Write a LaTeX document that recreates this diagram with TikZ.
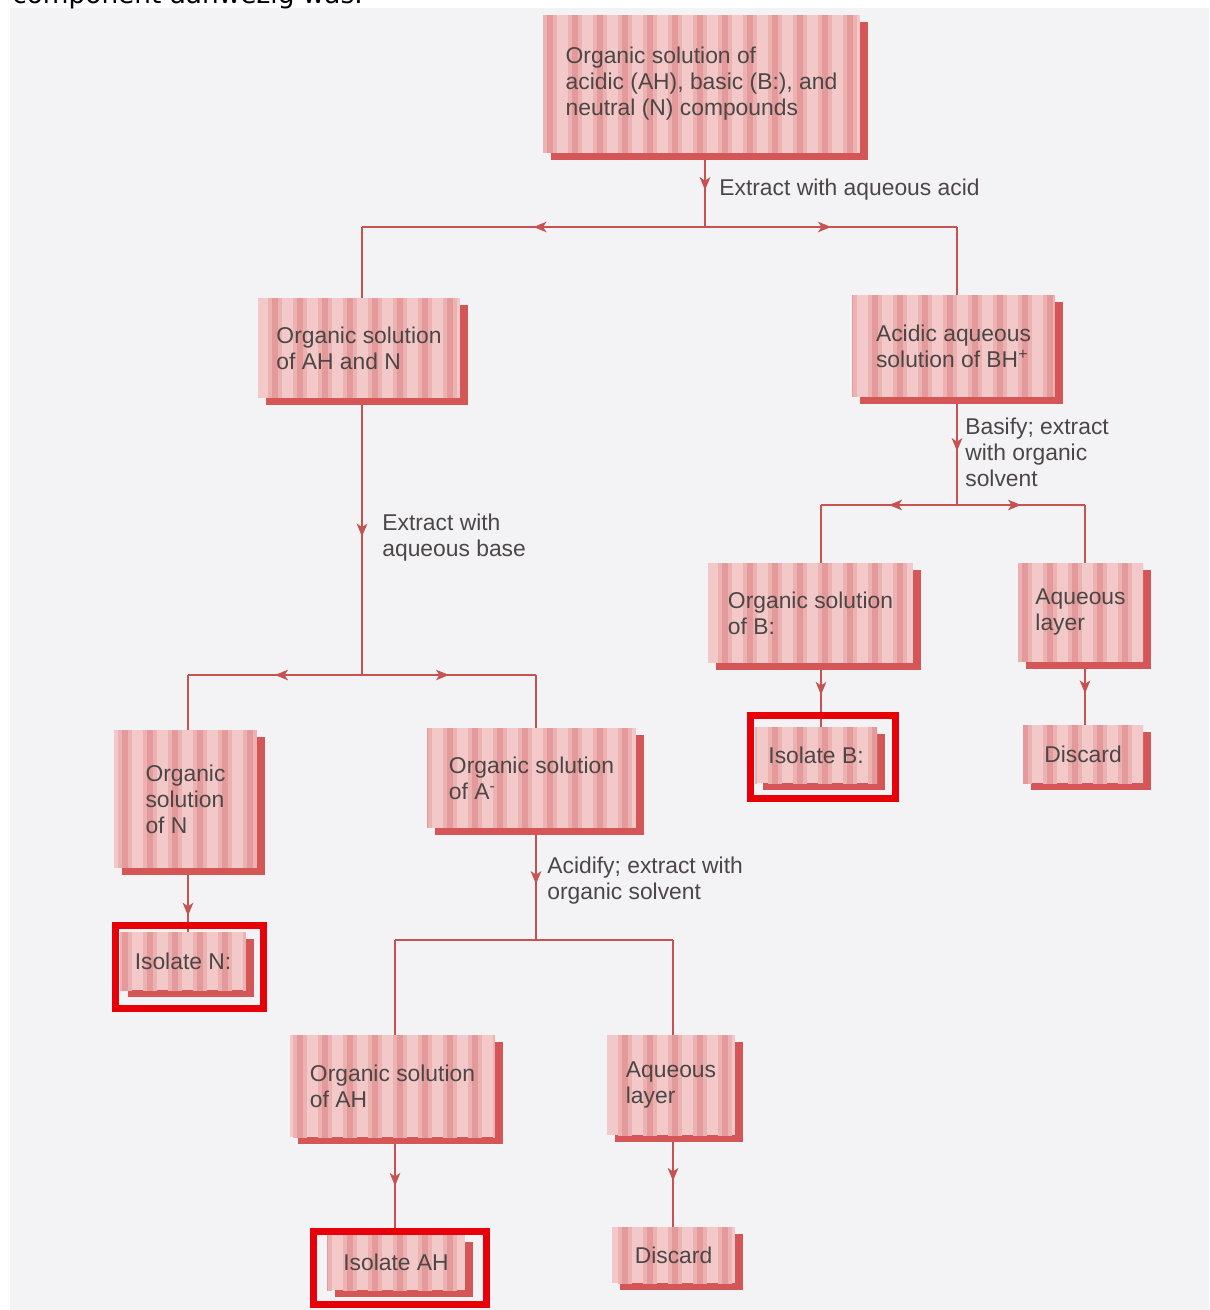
\documentclass[tikz,border=0pt]{standalone}
\usepackage{fontspec}
\setmainfont{Liberation Sans}
\newfontfamily\pagefont{DejaVu Sans}
\usetikzlibrary{shadows, arrows.meta, decorations.markings, patterns.meta}

\definecolor{boxpink}{RGB}{243,200,200}
\definecolor{boxstripe}{RGB}{236,178,178}
\definecolor{boxcore}{RGB}{228,154,154}
\definecolor{boxshade}{RGB}{212,86,86}
\definecolor{linkred}{RGB}{198,82,82}
\definecolor{labelgray}{RGB}{76,70,70}
\definecolor{pagegray}{RGB}{243,243,245}
\definecolor{hilitered}{RGB}{232,0,8}

\pgfdeclarelayer{paper}
\pgfdeclarelayer{wires}
\pgfsetlayers{paper,wires,main}

\tikzset{
  solbox/.style={fill=boxpink, align=left, text=labelgray, inner sep=0pt,
    font=\fontsize{13}{14.8}\selectfont,
    drop shadow={shadow xshift=0.16cm, shadow yshift=-0.14cm, fill=boxshade, opacity=1},
    postaction={pattern={Lines[angle=90, distance=0.5cm, line width=0.28cm]}, pattern color=boxstripe},
    postaction={pattern={Lines[angle=90, distance=0.5cm, line width=0.12cm]}, pattern color=boxcore}},
  hilite/.style={draw=hilitered, line width=0.14cm, inner sep=0pt},
  steplabel/.style={anchor=west, align=left, text=labelgray, inner sep=0pt,
    font=\fontsize{13}{14.8}\selectfont},
  link/.style={draw=linkred, line width=0.04cm},
  midarrow/.style={postaction={decorate}, decoration={markings,
    mark=at position #1 with {\arrow{Stealth[length=0.26cm, width=0.21cm, inset=0.07cm]}}}},
  midarrow/.default=0.5
}

\begin{document}
\begin{tikzpicture}[x=0.02cm, y=-0.02cm]
    \useasboundingbox (0,0) rectangle (1209,1310);
    \begin{pgfonlayer}{paper}
        \fill[pagegray] (10,8) rectangle (1209,1310);
    \end{pgfonlayer}
    \node[anchor=base west, inner sep=0pt, font=\fontsize{15}{18}\pagefont] (pagetext) at (12,4) {component aanwezig was.};

    % Boxes
    \node[solbox, minimum width=6.34cm, minimum height=2.76cm] (mix) at (701.5,84) {Organic solution of\\acidic (AH), basic (B:), and\\neutral (N) compounds};
    \node[solbox, minimum width=4.04cm, minimum height=2.00cm] (ahn) at (359,348) {Organic solution\\of AH and N};
    \node[solbox, minimum width=4.06cm, minimum height=2.04cm] (bhp) at (953.5,346) {Acidic aqueous\\solution of BH\textsuperscript{+}};
    \node[solbox, minimum width=4.10cm, minimum height=2.00cm] (orgb) at (810.5,613) {Organic solution\\of B:};
    \node[solbox, minimum width=2.50cm, minimum height=1.98cm] (aqb) at (1080.5,612.5) {Aqueous\\layer};
    \node[solbox, minimum width=2.44cm, minimum height=1.12cm] (isob) at (816,755) {Isolate B:};
    \node[solbox, minimum width=2.40cm, minimum height=1.16cm] (discb) at (1083,754) {Discard};
    \node[solbox, minimum width=2.86cm, minimum height=2.76cm] (orgn) at (185.5,799) {Organic\\solution\\of N};
    \node[solbox, minimum width=2.52cm, minimum height=1.16cm] (ison) at (183,961) {Isolate N:};
    \node[solbox, minimum width=4.18cm, minimum height=2.00cm] (orga) at (531.5,778) {Organic solution\\of A\textsuperscript{-}};
    \node[solbox, minimum width=4.10cm, minimum height=2.04cm] (orgah) at (392.5,1086) {Organic solution\\of AH};
    \node[solbox, minimum width=2.56cm, minimum height=2.00cm] (aqa) at (671,1085) {Aqueous\\layer};
    \node[solbox, minimum width=2.76cm, minimum height=1.10cm] (isoah) at (396,1262.5) {Isolate AH};
    \node[solbox, minimum width=2.46cm, minimum height=1.12cm] (disca) at (673.5,1255) {Discard};

    % Red frames
    \node[hilite, minimum width=2.90cm, minimum height=1.66cm] (isobframe) at (823,757) {};
    \node[hilite, minimum width=2.96cm, minimum height=1.66cm] (isonframe) at (189.5,967) {};
    \node[hilite, minimum width=3.46cm, minimum height=1.46cm] (isoahframe) at (400,1268) {};

    % Step labels
    \node[steplabel] (acidstep) at (719,190) {Extract with aqueous acid};
    \node[steplabel] (basestep) at (382,538) {Extract with\\aqueous base};
    \node[steplabel] (basifystep) at (965,452) {Basify; extract\\with organic\\solvent};
    \node[steplabel] (acidifystep) at (547,881) {Acidify; extract with\\organic solvent};

    % Junctions
    \coordinate (j1) at (705,227);
    \coordinate (j1l) at (362,227);
    \coordinate (j1r) at (957,227);
    \coordinate (j2) at (362,675);
    \coordinate (j2l) at (188,675);
    \coordinate (j2r) at (536,675);
    \coordinate (j3) at (536,940);
    \coordinate (j3l) at (395,940);
    \coordinate (j3r) at (673,940);
    \coordinate (j4) at (957,505);
    \coordinate (j4l) at (821,505);
    \coordinate (j4r) at (1085,505);

    % Arrows
    \begin{pgfonlayer}{wires}
    \draw[link, midarrow] (j1 |- mix.south) -- (j1);
    \draw[link, midarrow] (j1) -- (j1l);
    \draw[link, midarrow] (j1) -- (j1r);
    \draw[link] (j1l) -- (j1l |- ahn.north);
    \draw[link] (j1r) -- (j1r |- bhp.north);

    \draw[link, midarrow] (j2 |- ahn.south) -- (j2);
    \draw[link, midarrow] (j2) -- (j2l);
    \draw[link, midarrow] (j2) -- (j2r);
    \draw[link] (j2l) -- (j2l |- orgn.north);
    \draw[link] (j2r) -- (j2r |- orga.north);
    \draw[link, midarrow=0.75] (j2l |- orgn.south) -- (j2l |- ison.north);

    \draw[link, midarrow] (j3 |- orga.south) -- (j3);
    \draw[link] (j3l) -- (j3r);
    \draw[link] (j3l) -- (j3l |- orgah.north);
    \draw[link] (j3r) -- (j3r |- aqa.north);
    \draw[link, midarrow] (j3l |- orgah.south) -- (j3l |- isoah.north);
    \draw[link, midarrow] (j3r |- aqa.south) -- (j3r |- disca.north);

    \draw[link, midarrow] (j4 |- bhp.south) -- (j4);
    \draw[link, midarrow] (j4) -- (j4l);
    \draw[link, midarrow] (j4) -- (j4r);
    \draw[link] (j4l) -- (j4l |- orgb.north);
    \draw[link] (j4r) -- (j4r |- aqb.north);
    \draw[link, midarrow] (j4l |- orgb.south) -- (j4l |- isob.north);
    \draw[link, midarrow] (j4r |- aqb.south) -- (j4r |- discb.north);
    \end{pgfonlayer}
\end{tikzpicture}
\end{document}
